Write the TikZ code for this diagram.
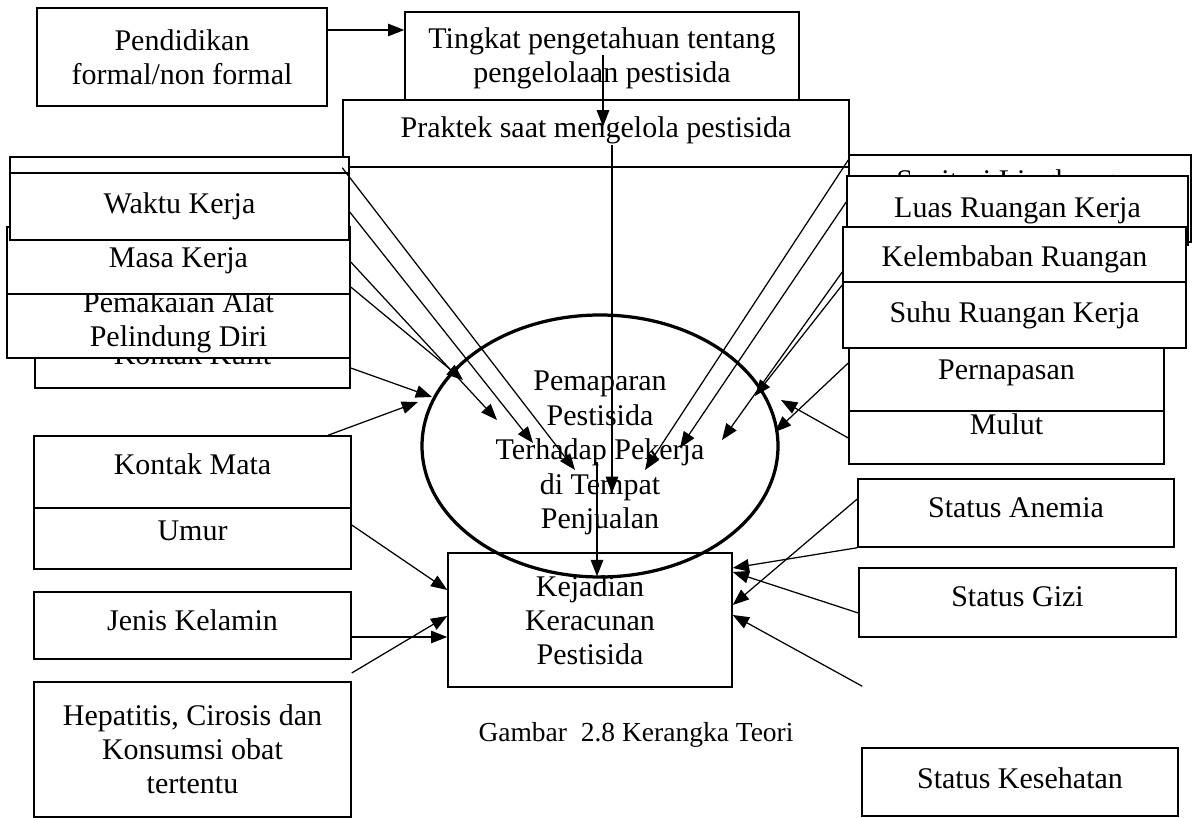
\documentclass[tikz,border=0pt]{standalone}
\usepackage{fontspec}
\setmainfont{Liberation Serif}
\usetikzlibrary{arrows.meta,shapes.geometric}

\begin{document}
\begin{tikzpicture}[x=0.4pt,y=-0.4pt,
  wh/.style 2 args={minimum width=#1*0.4pt,minimum height=#2*0.4pt},
  td/.style={text height=8pt,text depth=#1}]
\tikzstyle{box}=[draw,line width=0.6pt,fill=white,inner sep=0pt,align=center,font=\fontsize{12}{13.6}\selectfont]
\tikzstyle{arr}=[line width=0.5pt,-{Triangle[length=6.5pt,width=5pt]}]
\useasboundingbox (0,0) rectangle (1193,818);

\path (182,57) node[box,wh={290}{98}](pendidikan){Pendidikan\\formal/non formal};
\path (602,58) node[box,wh={394}{92}](tingkat){Tingkat pengetahuan tentang\\pengelolaan pestisida};
\path (596,133.5) node[box,wh={506}{67},td=4.4pt](praktek){Praktek saat mengelola pestisida};

\path (192.5,354) node[box,wh={315}{68}](kulit){Kontak Kulit};
\path (178.5,322) node[box,wh={343}{72}](pemakaian){Pemakaian Alat\\Pelindung Diri};
\path (178.5,260.5) node[box,wh={343}{67}](masa){Masa Kerja};
\path (179.5,193.5) node[box,wh={339}{73}](lain){};
\path (179.5,206.5) node[box,wh={339}{67}](waktu){Waktu Kerja};
\path (192.5,472) node[box,wh={317}{72},td=5.6pt](mata){Kontak Mata};
\path (192.5,538.5) node[box,wh={317}{61},td=6.8pt](umur){Umur};
\path (192.5,625.5) node[box,wh={317}{67},td=4.4pt](jenis){Jenis Kelamin};
\path (192.5,749.5) node[box,wh={317}{135}](hepatitis){Hepatitis, Cirosis dan\\Konsumsi obat\\tertentu};

\path (1020,198.5) node[box,wh={342}{87},td=14pt](sanitasi){Sanitasi Lingkungan};
\path (1017.5,210.5) node[box,wh={341}{69}](luas){Luas Ruangan Kerja};
\path (1006.5,373) node[box,wh={315}{76}](pernapasan){Pernapasan};
\path (1014.5,254.5) node[box,wh={343}{55},text height=11pt,text depth=1pt](kelembaban){Kelembaban Ruangan};
\path (1014.5,315) node[box,wh={343}{66}](suhu){Suhu Ruangan Kerja};
\path (1006.5,437.5) node[box,wh={315}{53},td=10pt](mulut){Mulut};
\path (1016,513) node[box,wh={316}{68},td=4pt](anemia){Status Anemia};
\path (1017.5,602.5) node[box,wh={317}{69},td=4.4pt](gizi){Status Gizi};
\path (1020,782) node[box,wh={316}{68},td=3.2pt](kesehatan){Status Kesehatan};

\path (590,620) node[box,wh={284}{134}](kejadian){Kejadian\\Keracunan\\Pestisida};
\path (600,446) node[draw,ellipse,line width=1.3pt,wh={356}{262},inner sep=0pt,align=center,font=\fontsize{12}{13.8}\selectfont](expo){\rule{0pt}{13.7pt}Pemaparan\\Pestisida\\Terhadap Pekerja\\di Tempat\\Penjualan};
\path (636,735) node[font=\fontsize{11}{13}\selectfont](gambar){Gambar\ \ 2.8 Kerangka Teori};

\draw[arr] (pendidikan.east |- 0,30) -- (tingkat.west |- 0,30);
\draw[arr] ([shift={(1,-3)}]tingkat.center) -- ([shift={(7,-7)}]praktek.center);
\draw[arr] ([shift={(16,12)}]praktek.center) -- ([shift={(12,47)}]expo.center);
\draw[arr] ([shift={(-3,16)}]expo.center) -- ([shift={(7,24)}]kejadian.north);

\draw[arr] (praktek.south west) -- ([shift={(-25,24)}]expo.center);
\draw[arr] (waktu.east |- 0,212) -- ([shift={(-67,-3)}]expo.center);
\draw[arr] (masa.east |- 0,262) -- ([shift={(-103,-26)}]expo.center);
\draw[arr] (masa.east |- 0,287) -- ([shift={(-137,-66)}]expo.center);
\draw[arr] (kulit.east |- 0,368) -- ([shift={(-168,-49)}]expo.center);
\draw[arr] (mata.north -| 328,0) -- ([shift={(-182,-44)}]expo.center);

\draw[arr] (sanitasi.west |- 0,160) -- ([shift={(45,24)}]expo.center);
\draw[arr] (luas.west |- 0,202) -- ([shift={(80,2)}]expo.center);
\draw[arr] (kelembaban.west |- 0,272) -- ([shift={(122,-6)}]expo.center);
\draw[arr] (suhu.west |- 0,285) -- ([shift={(155,-50)}]expo.center);
\draw[arr] (pernapasan.west |- 0,363) -- ([shift={(175,-14)}]expo.center);
\draw[arr] (mulut.west |- 0,438) -- ([shift={(181,-46)}]expo.center);

\draw[arr] (umur.east |- 0,525) -- (kejadian.west |- 0,590);
\draw[arr] (jenis.east |- 0,637) -- (kejadian.west |- 0,637);
\draw[arr] (jenis.east |- 0,673) -- (kejadian.west |- 0,616);
\draw[arr] (anemia.south west) -- (kejadian.east |- 0,568);
\draw[arr] (anemia.west |- 0,499) -- (kejadian.east |- 0,605);
\draw[arr] (gizi.west |- 0,613) -- (kejadian.east |- 0,572);
\draw[arr] ([shift={(1,-61)}]kesehatan.north west) -- (kejadian.east |- 0,615);
\end{tikzpicture}
\end{document}
